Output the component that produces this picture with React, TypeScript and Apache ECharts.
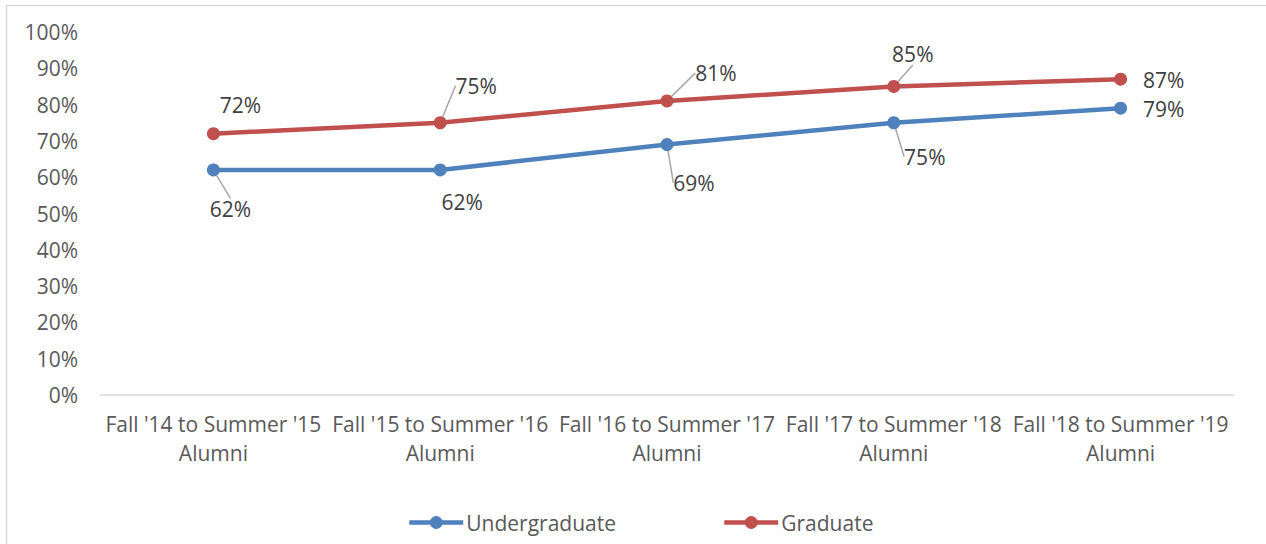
import React, { useEffect, useRef } from "react";
import * as echarts from "echarts";

const categories = [
  "Fall '14 to Summer '15\nAlumni",
  "Fall '15 to Summer '16\nAlumni",
  "Fall '16 to Summer '17\nAlumni",
  "Fall '17 to Summer '18\nAlumni",
  "Fall '18 to Summer '19\nAlumni",
];
const undergraduate = [62, 62, 69, 75, 79];
const graduate = [72, 75, 81, 85, 87];
const yTicks = [0, 10, 20, 30, 40, 50, 60, 70, 80, 90, 100];

// label displacement (px) from each point, per series
const ugLabelShift = [
  [17, 39],
  [22, 32],
  [27, 38],
  [31, 34],
  [43, 1],
];
const grLabelShift = [
  [27, -29],
  [36, -37],
  [49, -28],
  [19, -32],
  [43, 1],
];
const showLeader = { ug: [true, false, true, true, false], gr: [false, true, true, true, false] };

const FONT = "Open Sans";
const FS = 21;

export default function App() {
  const ref = useRef<HTMLDivElement>(null);
  useEffect(() => {
    document.body.style.margin = "0";
    const chart = echarts.init(ref.current!, null, { renderer: "svg" });
    const mkSeries = (name: string, data: number[], color: string, shift: number[][], leaders: boolean[]) => ({
      name,
      type: "line",
      data: data.map((v, i) => ({
        value: v,
        labelLine: { show: leaders[i] },
      })),
      symbol: "circle",
      symbolSize: 13,
      lineStyle: { width: 4.5, color },
      itemStyle: { color },
      label: {
        show: true,
        position: "inside",
        formatter: (p: any) => p.value + "%",
        color: "#404040",
        fontFamily: FONT,
        fontSize: FS,
      },
      labelLine: { show: true, lineStyle: { color: "#a6a6a6", width: 1.5 } },
      labelLayout: (p: any) => ({ dx: shift[p.dataIndex][0], dy: shift[p.dataIndex][1] }),
      emphasis: { disabled: true },
    });
    chart.setOption({
      animation: false,
      graphic: [
        {
          type: "rect",
          shape: { x: 6.5, y: 5.5, width: 1400, height: 700 },
          style: { fill: "none", stroke: "#d9d9d9", lineWidth: 1.5 },
          silent: true,
        },
      ],
      grid: { left: 100, right: 32, top: 32, bottom: 149, containLabel: false },
      xAxis: {
        type: "category",
        data: categories,
        boundaryGap: true,
        axisLine: { lineStyle: { color: "#d9d9d9", width: 1.5 } },
        axisTick: { show: false },
        axisLabel: {
          interval: 0,
          margin: 14,
          color: "#595959",
          fontFamily: FONT,
          fontSize: FS,
          lineHeight: 29,
        },
      },
      yAxis: {
        type: "value",
        min: yTicks[0],
        max: yTicks[yTicks.length - 1],
        interval: 10,
        splitLine: { show: false },
        axisLine: { show: false },
        axisTick: { show: false },
        axisLabel: {
          margin: 22,
          color: "#595959",
          fontFamily: FONT,
          fontSize: FS,
          formatter: (v: number) => v + "%",
        },
      },
      legend: {
        left: 402,
        top: 507,
        itemWidth: 54,
        itemHeight: 16,
        itemGap: 106,
        lineStyle: { width: 4.5 },
        textStyle: { color: "#595959", fontFamily: FONT, fontSize: FS, padding: [0, 0, 0, -2] },
        data: ["Undergraduate", "Graduate"],
      },
      series: [
        mkSeries("Undergraduate", undergraduate, "#4F81BD", ugLabelShift, showLeader.ug),
        mkSeries("Graduate", graduate, "#C0504D", grLabelShift, showLeader.gr),
      ],
    });
    return () => chart.dispose();
  }, []);
  return <div ref={ref} style={{ width: 1266, height: 544 }} />;
}
